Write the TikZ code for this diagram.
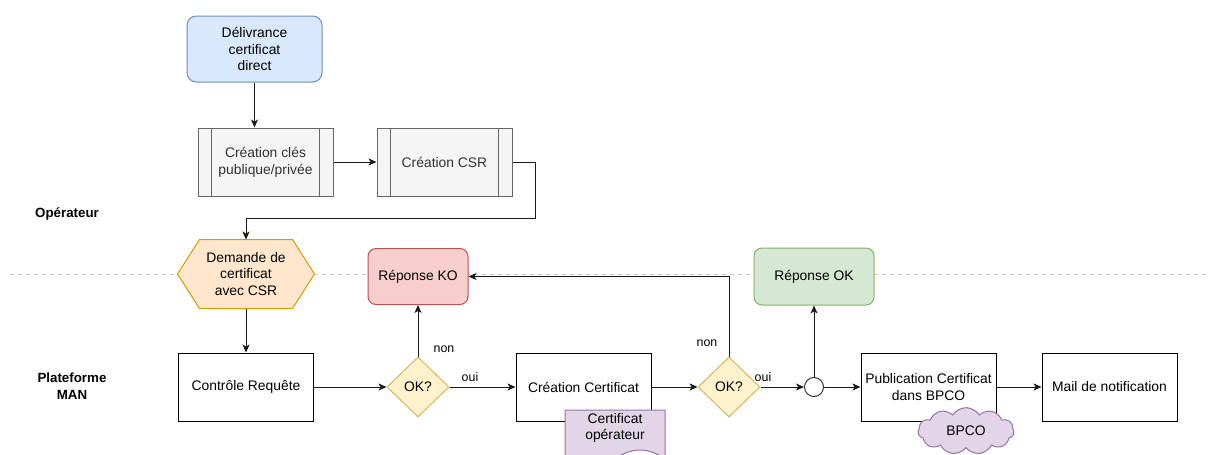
\documentclass[tikz,border=0pt]{standalone}
\usepackage{fontspec}
\setmainfont{Liberation Sans}
\usetikzlibrary{arrows.meta,shapes.geometric,shapes.symbols}

\definecolor{bluefill}{HTML}{DAE8FC}
\definecolor{blueline}{HTML}{6C8EBF}
\definecolor{procfill}{HTML}{F5F5F5}
\definecolor{procline}{HTML}{666666}
\definecolor{proctext}{HTML}{333333}
\definecolor{hexfill}{HTML}{FFE6CC}
\definecolor{hexline}{HTML}{D79B00}
\definecolor{kofill}{HTML}{F8CECC}
\definecolor{koline}{HTML}{B85450}
\definecolor{okfill}{HTML}{D5E8D4}
\definecolor{okline}{HTML}{82B366}
\definecolor{decfill}{HTML}{FFF2CC}
\definecolor{decline}{HTML}{D6B656}
\definecolor{purplefill}{HTML}{E1D5E7}
\definecolor{purpleline}{HTML}{9673A6}
\definecolor{lanecol}{HTML}{CCCCCC}
\definecolor{inkcol}{HTML}{1A1A1A}

\pgfdeclarelayer{background}
\pgfsetlayers{background,main}

\tikzset{
  base/.style={align=center, inner sep=2pt, line width=0.75pt,
    minimum width=101.25pt, minimum height=51pt},
  plainbox/.style={base, draw=black, fill=white},
  startbox/.style={base, draw=blueline, fill=bluefill, rounded corners=7pt,
    minimum height=49.5pt},
  procbox/.style={base, draw=procline, fill=procfill, text=proctext},
  hexbox/.style={base, minimum width=102pt},
  hexshape/.style={draw=hexline, fill=hexfill, line width=0.75pt},
  kobox/.style={base, draw=koline, fill=kofill, rounded corners=6pt,
    minimum width=75pt, minimum height=42pt},
  okbox/.style={base, draw=okline, fill=okfill, rounded corners=6pt,
    minimum width=90pt, minimum height=42.75pt},
  decision/.style={diamond, draw=decline, fill=decfill, line width=0.75pt,
    inner sep=0pt, minimum width=46.5pt, minimum height=45pt},
  junction/.style={circle, draw=proctext, fill=white, line width=0.75pt,
    inner sep=0pt, minimum size=14.25pt},
  docbox/.style={align=center, inner sep=0pt},
  docshape/.style={draw=purpleline, fill=purplefill, line width=0.75pt},
  cloudbox/.style={cloud, cloud puffs=11, cloud puff arc=115, aspect=2.1,
    draw=purpleline, fill=purplefill, line width=0.75pt, inner sep=0pt,
    minimum width=72pt, minimum height=35pt},
  lanetitle/.style={font=\fontsize{10}{12.5}\selectfont\bfseries, align=center},
  lbl/.style={font=\fontsize{9.3}{11}\selectfont, inner sep=0pt},
  arr/.style={draw=inkcol, line width=0.75pt,
    -{Stealth[length=6pt,width=5.25pt,inset=1.6pt]}},
  lane/.style={draw=lanecol, line width=0.6pt, dash pattern=on 3pt off 3pt},
}

\begin{document}
\begin{tikzpicture}[x=0.75pt, y=-0.75pt, font=\fontsize{10.4}{12.5}\selectfont]
\useasboundingbox (0,0) rectangle (1209,454);
\clip (0,0) rectangle (1209,454);

% lane titles
\node[lanetitle] (lopr) at (67,214) {Opérateur};
\node[lanetitle] (lman) at (72,386) {Plateforme\\MAN};

% operator side
\node[startbox] (deliv) at (254.5,49) {Délivrance\\certificat\\direct};
\node[procbox] (cles) at (265.5,162) {Création clés\\publique/privée};
\node[procbox] (csr) at (444.5,162) {Création CSR};
\foreach \n in {cles,csr}
  \draw[procline, line width=0.75pt]
    ([xshift=10.5pt]\n.north west) -- ([xshift=10.5pt]\n.south west)
    ([xshift=-10.5pt]\n.north east) -- ([xshift=-10.5pt]\n.south east);

\node[hexbox] (hex) at (246,274) {Demande de\\certificat\\avec CSR};
\begin{pgfonlayer}{background}
  \fill[white] (0,0) rectangle (1209,454);
  \draw[lane] (10,274) -- (1209,274);
  \draw[hexshape] ([xshift=16.5pt]hex.north west) -- ([xshift=-16.5pt]hex.north east)
    -- (hex.east) -- ([xshift=-16.5pt]hex.south east)
    -- ([xshift=16.5pt]hex.south west) -- (hex.west) -- cycle;
\end{pgfonlayer}

\node[kobox] (ko) at (418,276.5) {Réponse KO};
\node[okbox] (ok) at (814,276.5) {Réponse OK};

% platform side
\node[plainbox] (ctrl) at (246,387) {Contrôle Requête};
\node[decision] (d1) at (418,387) {OK?};
\node[plainbox] (cert) at (583.5,387) {Création Certificat};
\node[decision] (d2) at (729,387) {OK?};
\node[junction] (jn) at (814,387) {};
\node[plainbox] (pub) at (928.5,387) {Publication Certificat\\dans BPCO};
\node[plainbox] (mail) at (1109.5,387) {Mail de notification};

% certificate document attached to the creation step
\path[docshape] (565,410) -- (665,410) -- (665,459)
  .. controls (648.3,447) and (631.7,447) .. (615,459)
  .. controls (598.3,471) and (581.7,471) .. (565,459) -- cycle;
\node[docbox] (doc) at (615,428) {Certificat\\opérateur};

% publication store
\node[cloudbox] (bpco) at (966,431) {BPCO};

% flow
\coordinate (bend) at (535,218);
\draw[arr] (deliv) -- (deliv.south |- cles.north);
\draw[arr] (cles) -- (csr);
\draw[arr] (csr.east) -| (bend) -| (hex.north);
\draw[arr] (hex) -- (ctrl);
\draw[arr] (ctrl) -- (d1);
\draw[arr] (d1) -- (ko);
\draw[arr] (d1) -- (cert);
\draw[arr] (cert) -- (d2);
\draw[arr] (d2.north) |- (ko.east);
\draw[arr] (d2) -- (jn);
\draw[arr] (jn) -- (jn |- ok.south);
\draw[arr] (jn) -- (pub);
\draw[arr] (pub) -- (mail);

% decision labels
\node[lbl] (non1) at (444,349) {non};
\node[lbl] (oui1) at (470,377) {oui};
\node[lbl] (non2) at (707,343) {non};
\node[lbl] (oui2) at (763,377) {oui};
\end{tikzpicture}
\end{document}
